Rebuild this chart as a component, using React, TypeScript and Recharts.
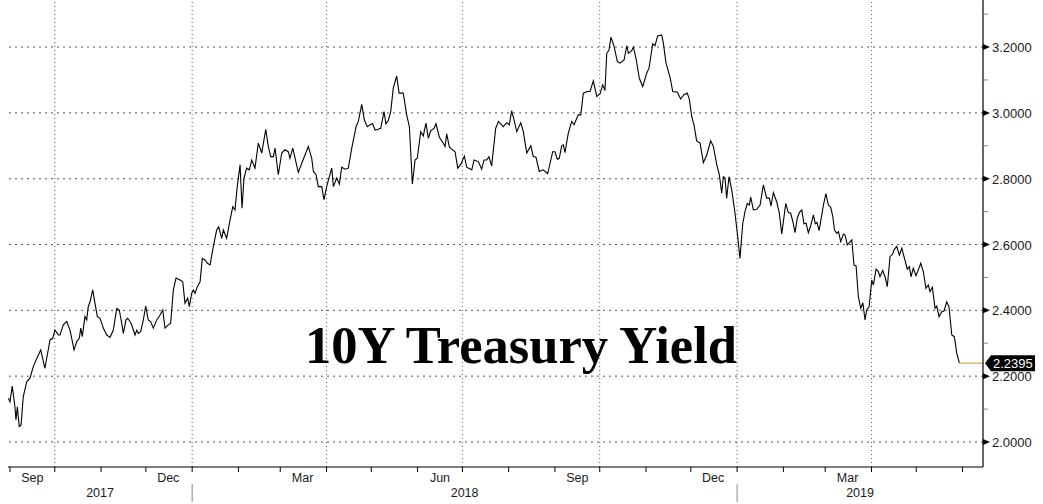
import React from 'react';
import { LineChart, Line, XAxis, YAxis, ReferenceLine } from 'recharts';

// [days since 2017-09-01, 10Y yield %]
const yields2017: [number, number][] = [
  [-1.1, 2.133], [0, 2.122], [1.5, 2.17], [3.3, 2.107], [4.0, 2.067], [4.9, 2.107], [6.2, 2.047], [7.4, 2.052],
  [8.9, 2.138], [11.2, 2.183], [13.4, 2.194], [15.6, 2.229], [17.9, 2.254], [20.6, 2.28], [23.4, 2.224], [26.8, 2.31],
  [28.6, 2.315], [30.1, 2.34], [32.4, 2.325], [33.5, 2.325], [35.7, 2.356], [38.0, 2.366], [40.2, 2.34], [42.9, 2.28],
  [44.7, 2.305], [46.4, 2.315], [47.4, 2.346], [48.4, 2.32], [50.2, 2.381], [51.4, 2.371], [52.4, 2.411], [53.6, 2.426],
  [55.4, 2.462], [56.9, 2.422], [58.5, 2.381], [60.3, 2.376], [62.5, 2.346], [64.8, 2.325], [67.0, 2.318], [69.2, 2.34],
  [71.5, 2.406], [73.2, 2.401], [74.8, 2.361], [75.9, 2.33], [77.7, 2.371], [78.8, 2.376], [80.4, 2.366], [81.5, 2.356],
  [83.7, 2.325], [84.9, 2.34], [85.9, 2.33], [87.5, 2.335], [89.3, 2.371], [90.9, 2.413], [92.6, 2.371], [94.2, 2.366],
  [96.0, 2.346], [98.3, 2.371], [100.5, 2.386], [102.3, 2.401], [103.8, 2.346], [106.0, 2.356], [107.6, 2.361],
  [109.4, 2.462], [111.2, 2.498], [113.9, 2.492], [115.7, 2.487], [117.2, 2.422], [119.0, 2.437], [120.1, 2.411],
  [121.7, 2.452],
];

const yields2018: [number, number][] = [
  [122.8, 2.462], [123.9, 2.452], [125.5, 2.472], [127.3, 2.487], [128.8, 2.558], [130.6, 2.553], [132.2, 2.543],
  [134.0, 2.538], [136.2, 2.594], [138.4, 2.644], [139.8, 2.654], [141.8, 2.619], [142.9, 2.644], [145.1, 2.619],
  [147.4, 2.675], [149.2, 2.715], [150.7, 2.705], [152.2, 2.776], [154.1, 2.842], [155.4, 2.71], [156.7, 2.801],
  [158.5, 2.832], [160.3, 2.827], [161.9, 2.857], [164.1, 2.832], [166.3, 2.908], [168.6, 2.878], [171.3, 2.95],
  [173.0, 2.898], [174.6, 2.867], [176.4, 2.867], [177.5, 2.893], [179.7, 2.812], [182.0, 2.878], [184.2, 2.888],
  [186.4, 2.882], [187.5, 2.862], [189.4, 2.893], [193.1, 2.819], [195.4, 2.847], [197.6, 2.872], [199.8, 2.898],
  [202.1, 2.862], [203.2, 2.822], [205.0, 2.812], [206.5, 2.776], [208.8, 2.776], [210.3, 2.736], [212.1, 2.776],
  [213.9, 2.806], [215.5, 2.832], [216.6, 2.776], [218.8, 2.802], [220.6, 2.784], [222.2, 2.835], [224.4, 2.829],
  [226.6, 2.832], [228.9, 2.893], [231.8, 2.958], [233.3, 2.974], [235.6, 3.026], [237.3, 2.979], [239.3, 2.958],
  [241.1, 2.964], [242.9, 2.967], [244.5, 2.948], [246.7, 2.95], [248.3, 2.953], [250.5, 3.004], [251.8, 2.967],
  [253.4, 2.977], [255.0, 3.004], [256.7, 3.075], [259.0, 3.112], [260.6, 3.06], [263.4, 3.06], [265.7, 2.994],
  [267.5, 2.958], [269.5, 2.784], [271.3, 2.857], [272.8, 2.862], [275.1, 2.943], [276.8, 2.93], [278.6, 2.969],
  [280.2, 2.923], [281.8, 2.946], [284.0, 2.953], [285.3, 2.967], [287.6, 2.926], [290.2, 2.908], [291.4, 2.898],
  [292.5, 2.936], [294.3, 2.896], [295.8, 2.89], [298.1, 2.882], [299.9, 2.832], [302.1, 2.845], [304.3, 2.869],
  [305.9, 2.835], [309.3, 2.827], [310.8, 2.857], [313.7, 2.852], [315.9, 2.829], [317.5, 2.857], [319.3, 2.857],
  [320.8, 2.867], [322.6, 2.839], [325.3, 2.953], [327.1, 2.974], [330.4, 2.958], [332.7, 2.97], [334.4, 2.964],
  [336.0, 3.006], [337.6, 2.979], [339.4, 2.943], [342.1, 2.97], [343.8, 2.943], [346.1, 2.878], [348.8, 2.9],
  [350.5, 2.867], [352.3, 2.865], [354.5, 2.822], [357.2, 2.827], [360.1, 2.815], [363.5, 2.882], [365.0, 2.882],
  [366.6, 2.859], [367.9, 2.862], [369.5, 2.9], [370.6, 2.903], [371.7, 2.879], [373.9, 2.938], [376.2, 2.974],
  [377.8, 2.964], [380.6, 2.994], [382.3, 2.994], [384.0, 3.06], [386.7, 3.065], [388.5, 3.065], [390.7, 3.097],
  [393.0, 3.05], [395.2, 3.058], [397.0, 3.085], [398.5, 3.068], [399.7, 3.181], [401.2, 3.191], [402.5, 3.23],
  [404.6, 3.202], [406.8, 3.156], [408.6, 3.151], [411.3, 3.161], [413.1, 3.204], [414.2, 3.181], [416.4, 3.189],
  [417.5, 3.2], [419.3, 3.166], [421.5, 3.105], [423.8, 3.08], [426.5, 3.121], [428.0, 3.136], [430.5, 3.21],
  [432.0, 3.204], [433.8, 3.234], [436.5, 3.237], [437.6, 3.212], [439.4, 3.151], [442.1, 3.108], [443.9, 3.065],
  [447.0, 3.063], [449.2, 3.042], [451.4, 3.055], [453.6, 3.06], [455.0, 3.042], [456.6, 2.989], [458.1, 2.964],
  [459.9, 2.915], [462.2, 2.908], [464.4, 2.849], [466.7, 2.872], [469.3, 2.915], [471.1, 2.898], [473.4, 2.842],
  [475.1, 2.812], [476.7, 2.756], [477.8, 2.806], [478.9, 2.802], [480.0, 2.741], [481.6, 2.806], [483.4, 2.766],
  [485.6, 2.695],
];

const yields2019: [number, number][] = [
  [487.4, 2.624], [488.9, 2.558], [490.8, 2.664], [492.3, 2.7], [493.8, 2.725], [495.2, 2.72], [496.1, 2.744],
  [497.9, 2.705], [500.1, 2.707], [502.4, 2.72], [504.6, 2.781], [506.8, 2.741], [508.6, 2.741], [509.7, 2.717],
  [511.3, 2.758], [513.5, 2.73], [515.3, 2.695], [516.9, 2.632], [519.6, 2.725], [521.3, 2.697], [522.9, 2.695],
  [524.3, 2.67], [525.8, 2.636], [527.3, 2.68], [528.7, 2.697], [530.3, 2.705], [531.8, 2.663], [533.2, 2.665],
  [534.7, 2.636], [536.3, 2.657], [538.1, 2.69], [539.4, 2.663], [540.5, 2.667], [541.9, 2.642], [544.1, 2.7],
  [544.8, 2.72], [546.5, 2.755], [548.1, 2.72], [549.7, 2.713], [551.1, 2.685], [552.2, 2.644], [553.8, 2.634],
  [554.9, 2.639], [556.4, 2.609], [558.2, 2.632], [559.3, 2.629], [560.8, 2.599], [562.2, 2.606], [563.8, 2.614],
  [565.3, 2.538], [566.7, 2.535], [568.2, 2.442], [569.8, 2.406], [571.2, 2.423], [572.7, 2.371], [573.8, 2.401],
  [575.4, 2.411], [577.2, 2.492], [578.3, 2.477], [580.1, 2.525], [581.6, 2.518], [582.7, 2.502], [584.5, 2.521],
  [586.1, 2.502], [587.6, 2.472], [589.4, 2.563], [591.2, 2.571], [592.1, 2.584], [593.9, 2.594], [595.7, 2.568],
  [597.3, 2.589], [598.8, 2.563], [601.0, 2.525], [602.4, 2.533], [603.5, 2.502], [605.0, 2.528], [606.8, 2.505],
  [608.4, 2.523], [610.0, 2.543], [611.7, 2.518], [613.5, 2.467], [615.1, 2.477], [616.2, 2.457], [617.8, 2.47],
  [619.6, 2.406], [620.7, 2.413], [622.3, 2.381], [624.1, 2.396], [625.6, 2.398], [627.4, 2.426], [628.9, 2.411],
  [630.8, 2.325], [632.5, 2.32], [634.1, 2.27], [635.9, 2.2395],
];

const lastYield = 2.2395;
const lastLabel = '2.2395';
const title = '10Y Treasury Yield';

const DAY0 = Date.UTC(2017, 8, 1);
const dayOf = (s: string) => (Date.parse(s + 'T00:00:00Z') - DAY0) / 86400000;

const monthStarts = [
  '2017-09-01', '2017-10-01', '2017-11-01', '2017-12-01', '2018-01-01', '2018-02-01', '2018-03-01', '2018-04-01',
  '2018-05-01', '2018-06-01', '2018-07-01', '2018-08-01', '2018-09-01', '2018-10-01', '2018-11-01', '2018-12-01',
  '2019-01-01', '2019-02-01', '2019-03-01', '2019-04-01', '2019-05-01', '2019-06-01',
];
const monthLabels: [string, string][] = [
  ['Sep', '2017-09-16'], ['Dec', '2017-12-16'], ['Mar', '2018-03-16'], ['Jun', '2018-06-16'],
  ['Sep', '2018-09-16'], ['Dec', '2018-12-16'], ['Mar', '2019-03-16'],
];
const gridDates = ['2017-10-01', '2018-01-01', '2018-04-01', '2018-07-01', '2018-10-01', '2019-01-01', '2019-04-01'];
const yearStarts = ['2018-01-01', '2019-01-01'];
const yearNames = ['2017', '2018', '2019'];
const majorYTicks = [2.0, 2.2, 2.4, 2.6, 2.8, 3.0, 3.2];
const minorYTicks = [2.1, 2.3, 2.5, 2.7, 2.9, 3.1, 3.3];

const X_DOMAIN: [number, number] = [-1.34, 651.7];
const Y_DOMAIN: [number, number] = [1.924, 3.343];

const lineData = [...yields2017, ...yields2018, ...yields2019].map(([d, v]) => ({ day: d, y: v }));
const lastDay = yields2019[yields2019.length - 1][0];
const lastData = [{ day: lastDay, y: lastYield }, { day: X_DOMAIN[1], y: lastYield }];

// x tick table
type XT = { kind: 'month' | 'label' | 'year'; text?: string; sep?: boolean };
const xTickInfo = new Map<number, XT>();
monthStarts.forEach((m) => xTickInfo.set(dayOf(m), { kind: 'month', sep: yearStarts.includes(m) }));
monthLabels.forEach(([t, d]) => xTickInfo.set(dayOf(d), { kind: 'label', text: t }));
const yearBounds = [X_DOMAIN[0], ...yearStarts.map(dayOf), X_DOMAIN[1]];
yearNames.forEach((yn, i) => xTickInfo.set((yearBounds[i] + yearBounds[i + 1]) / 2, { kind: 'year', text: yn }));
const xTicks = Array.from(xTickInfo.keys()).sort((a, b) => a - b);

const FONT = '"Liberation Sans", Tahoma, Arial, sans-serif';

const XTick = (props: any) => {
  const { x, y, payload } = props;
  const info = xTickInfo.get(payload.value);
  if (!info) return <g />;
  if (info.kind === 'month') {
    return (
      <g>
        <line x1={x} x2={x} y1={y} y2={y + 5} stroke="#000" strokeWidth={1} />
        {info.sep && <line x1={x} x2={x} y1={y + 17} y2={y + 35} stroke="#8a8a8a" strokeWidth={1} />}
      </g>
    );
  }
  if (info.kind === 'label') {
    return (
      <text x={x} y={y + 11} textAnchor="middle" dominantBaseline="central" fontFamily={FONT} fontSize={12.5} fill="#1a1a1a">
        {info.text}
      </text>
    );
  }
  return (
    <text x={x} y={y + 26} textAnchor="middle" dominantBaseline="central" fontFamily={FONT} fontSize={12.5} fill="#1a1a1a">
      {info.text}
    </text>
  );
};

const YTick = (props: any) => {
  const { x, y, payload } = props;
  const v = payload.value;
  if (v === lastYield) {
    return (
      <g>
        <path d={`M${x + 2},${y} L${x + 8},${y - 8} L${x + 52},${y - 8} L${x + 52},${y + 8} L${x + 8},${y + 8} Z`} fill="#000" />
        <text x={x + 10} y={y + 0.5} dominantBaseline="central" fontFamily={FONT} fontSize={13} fill="#fff">
          {lastLabel}
        </text>
      </g>
    );
  }
  if (majorYTicks.includes(v)) {
    return (
      <g>
        <path d={`M${x},${y - 3} L${x + 7},${y} L${x},${y + 3} Z`} fill="#000" />
        <text x={x + 9} y={y + 0.5} dominantBaseline="central" fontFamily={FONT} fontSize={13} fill="#1a1a1a">
          {v.toFixed(4)}
        </text>
      </g>
    );
  }
  return <line x1={x} x2={x + 5} y1={y} y2={y} stroke="#888" strokeWidth={1} />;
};

export default function App() {
  return (
    <div style={{ position: 'relative', width: 1043, height: 504, background: '#fff' }}>
      <style>{'body{margin:0;background:#fff}'}</style>
      <LineChart width={1043} height={504} data={lineData} margin={{ top: 0, right: 0, left: 8, bottom: 0 }}>
        {majorYTicks.map((v) => (
          <ReferenceLine key={'h' + v} y={v} stroke="#555" strokeDasharray="2 4" strokeWidth={1} />
        ))}
        {gridDates.map((d) => (
          <ReferenceLine key={'v' + d} x={dayOf(d)} stroke="#555" strokeDasharray="1 3" strokeWidth={1} />
        ))}
        <XAxis
          dataKey="day"
          type="number"
          domain={X_DOMAIN}
          allowDataOverflow
          ticks={xTicks}
          interval={0}
          tick={<XTick />}
          tickLine={false}
          tickSize={0}
          tickMargin={0}
          height={37}
          axisLine={{ stroke: '#000', strokeWidth: 1.2 }}
        />
        <YAxis
          orientation="right"
          type="number"
          domain={Y_DOMAIN}
          allowDataOverflow
          ticks={[...minorYTicks, ...majorYTicks, lastYield]}
          interval={0}
          tick={<YTick />}
          tickLine={false}
          tickSize={0}
          tickMargin={0}
          width={60}
          axisLine={{ stroke: '#000', strokeWidth: 1.2 }}
        />
        <Line
          type="linear"
          dataKey="y"
          stroke="#000"
          strokeWidth={1.1}
          dot={false}
          isAnimationActive={false}
        />
        <Line
          data={lastData}
          type="linear"
          dataKey="y"
          stroke="#d0a640"
          strokeWidth={1.2}
          dot={false}
          isAnimationActive={false}
        />
      </LineChart>
      <svg width={1043} height={504} style={{ position: 'absolute', left: 0, top: 0, pointerEvents: 'none' }}>
        <text
          x={305}
          y={363}
          textLength={432}
          lengthAdjust="spacingAndGlyphs"
          fontFamily='"Liberation Serif", "Times New Roman", serif'
          fontWeight="bold"
          fontSize={52}
          fill="#000"
        >
          {title}
        </text>
      </svg>
    </div>
  );
}
